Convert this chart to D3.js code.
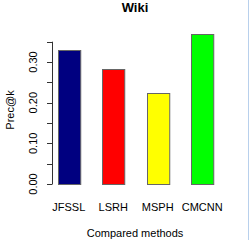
<!DOCTYPE html>
<html>
<head>
<meta charset="utf-8">
<script src="https://cdn.jsdelivr.net/npm/d3@7"></script>
<style>
  body { margin: 0; background: #fff; }
  text { font-family: "Liberation Sans", Arial, sans-serif; fill: #000; }
</style>
</head>
<body>
<div id="chart"></div>
<script>
const methods = ["JFSSL", "LSRH", "MSPH", "CMCNN"]
const precK = [0.329, 0.283, 0.223, 0.370]
const barColors = ["#000080", "#ff0000", "#ffff00", "#00ff00"]
const yTicks = [0, 0.05, 0.1, 0.15, 0.2, 0.25, 0.3, 0.35]
const yLabels = [0, 0.1, 0.2, 0.3]

const W = 249, H = 240
const svg = d3.select("#chart").append("svg")
    .attr("width", W)
    .attr("height", H)

// plot area
const y = d3.scaleLinear().domain([0, 0.35]).range([184, 41.7])
const x = d3.scaleBand().domain(methods).range([46.5, 224.5]).paddingInner(0.5).paddingOuter(0.25)

// y axis, R style
const axis = svg.append("g")
axis.append("line")
    .attr("x1", 52.5).attr("x2", 52.5)
    .attr("y1", y(0)).attr("y2", y(0.35))
    .attr("stroke", "#333")
axis.selectAll(".tick").data(yTicks).enter().append("line")
    .attr("x1", 47).attr("x2", 52.5)
    .attr("y1", d => Math.round(y(d)) + 0.5)
    .attr("y2", d => Math.round(y(d)) + 0.5)
    .attr("stroke", "#333")
axis.selectAll(".lab").data(yLabels).enter().append("text")
    .attr("transform", d => "translate(37," + y(d) + ") rotate(-90)")
    .attr("text-anchor", "middle")
    .attr("font-size", 11)
    .text(d => d3.format(".2f")(d))

// bars
svg.selectAll("rect").data(precK).enter().append("rect")
    .attr("x", (d, i) => Math.round(x(methods[i])) + 0.5)
    .attr("y", d => Math.round(y(d)) + 0.5)
    .attr("width", x.bandwidth())
    .attr("height", d => Math.round(y(0)) - Math.round(y(d)))
    .attr("fill", (d, i) => barColors[i])
    .attr("stroke", "#666")

// category labels
svg.selectAll(".cat").data(methods).enter().append("text")
    .attr("x", d => x(d) + x.bandwidth() / 2)
    .attr("y", 211)
    .attr("text-anchor", "middle")
    .attr("font-size", 11)
    .text(d => d)

svg.append("text")
    .attr("x", 135)
    .attr("y", 237)
    .attr("text-anchor", "middle")
    .attr("font-size", 11)
    .text("Compared methods")

svg.append("text")
    .attr("transform", "translate(14,110) rotate(-90)")
    .attr("text-anchor", "middle")
    .attr("font-size", 11)
    .text("Prec@k")

svg.append("text")
    .attr("x", 135)
    .attr("y", 12)
    .attr("text-anchor", "middle")
    .attr("font-size", 13)
    .attr("font-weight", "bold")
    .text("Wiki")

// right border line from the screenshot
svg.append("line")
    .attr("x1", 248.5).attr("x2", 248.5)
    .attr("y1", 0).attr("y2", H)
    .attr("stroke", "#b8d0ec")
</script>
</body>
</html>
